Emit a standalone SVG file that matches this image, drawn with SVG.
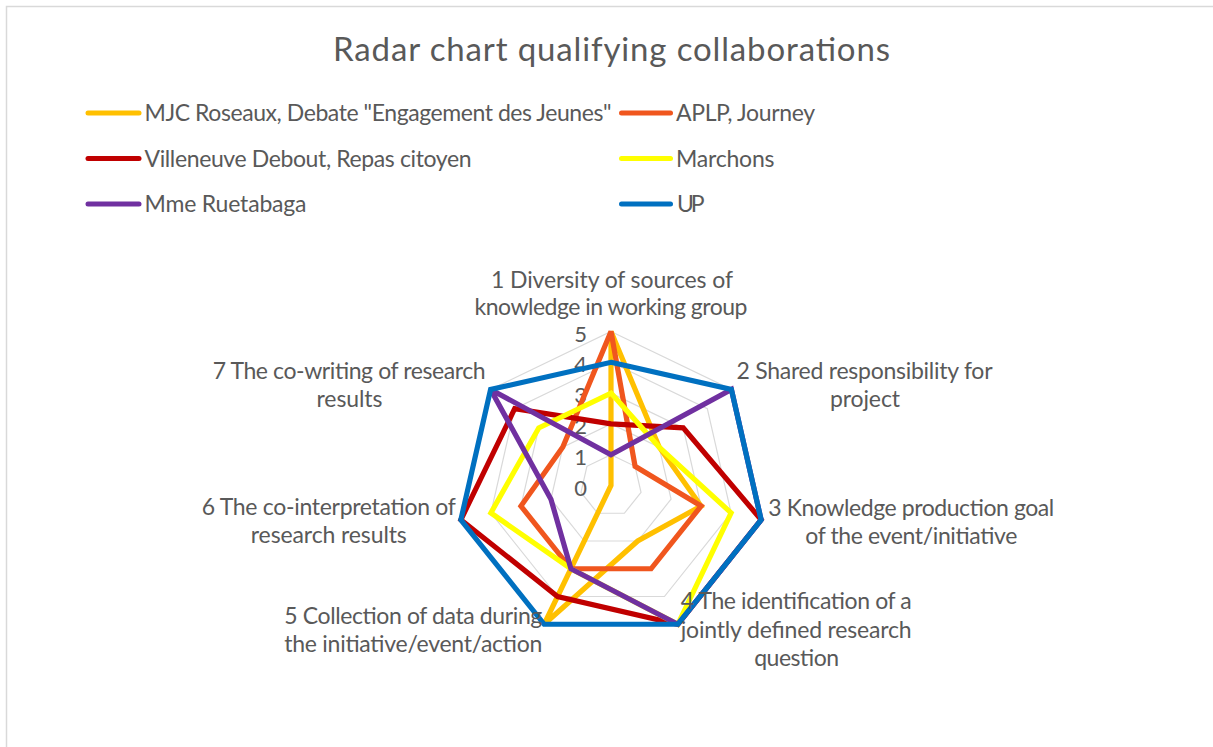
<svg xmlns="http://www.w3.org/2000/svg" width="1213" height="747" viewBox="0 0 1213 747">
  <style>
    .t { font-family: Lato, "Open Sans", "Liberation Sans", sans-serif; fill: #595959; font-size: 23px; }
    .title { font-size: 33px; }
    .tick { font-size: 22px; }
    .mid { text-anchor: middle; }
    .end { text-anchor: end; }
    .grid { fill: none; stroke: #D9D9D9; stroke-width: 1.2; }
    .s { fill: none; stroke-width: 5.2; stroke-linejoin: miter; stroke-miterlimit: 2; }
    .lg { stroke-width: 5; stroke-linecap: round; }
  </style>
  <rect x="0" y="0" width="1213" height="747" fill="#FFFFFF"/>
  <path d="M6.5,747 V6.5 H1213" fill="none" stroke="#D9D9D9" stroke-width="1.5"/>

  <g id="title">
    <text class="t title mid" x="611.5" y="61" textLength="557">Radar chart qualifying collaborations</text>
  </g>

  <g id="legend">
    <g id="legend-mjc">
      <line class="lg" x1="88" y1="113" x2="139" y2="113" stroke="#FFC000"/>
      <text class="t" x="144.5" y="121" textLength="467">MJC Roseaux, Debate "Engagement des Jeunes"</text>
    </g>
    <g id="legend-aplp">
      <line class="lg" x1="621.5" y1="113" x2="670.5" y2="113" stroke="#F0561E"/>
      <text class="t" x="676" y="121" textLength="139">APLP, Journey</text>
    </g>
    <g id="legend-villeneuve">
      <line class="lg" x1="88" y1="158.5" x2="139" y2="158.5" stroke="#C00000"/>
      <text class="t" x="144.5" y="166.5" textLength="327">Villeneuve Debout, Repas citoyen</text>
    </g>
    <g id="legend-marchons">
      <line class="lg" x1="621.5" y1="158.5" x2="670.5" y2="158.5" stroke="#FFFF00"/>
      <text class="t" x="676" y="166.5" textLength="98.5">Marchons</text>
    </g>
    <g id="legend-ruetabaga">
      <line class="lg" x1="88" y1="204" x2="139" y2="204" stroke="#7030A0"/>
      <text class="t" x="144.5" y="212" textLength="162">Mme Ruetabaga</text>
    </g>
    <g id="legend-up">
      <line class="lg" x1="621.5" y1="204" x2="670.5" y2="204" stroke="#0070C0"/>
      <text class="t" x="677" y="212" textLength="27.5">UP</text>
    </g>
  </g>

  <g id="grid">
    <polygon class="grid" points="611,454.7 635.08,466.3 641.03,492.35 624.36,513.25 597.64,513.25 580.97,492.35 586.92,466.3"/>
    <polygon class="grid" points="611,423.9 659.16,447.1 671.06,499.21 637.73,541 584.27,541 550.94,499.21 562.84,447.1"/>
    <polygon class="grid" points="611,393.1 683.24,427.89 701.08,506.06 651.09,568.75 570.91,568.75 520.92,506.06 538.76,427.89"/>
    <polygon class="grid" points="611,362.3 707.32,408.69 731.11,512.91 664.45,596.5 557.55,596.5 490.89,512.91 514.68,408.69"/>
    <polygon class="grid" points="611,331.5 731.4,389.48 761.14,519.77 677.82,624.25 544.18,624.25 460.86,519.77 490.6,389.48"/>
  </g>

  <g id="ticks">
    <text class="t tick end" x="587" y="341.5">5</text>
    <text class="t tick end" x="587" y="372">4</text>
    <text class="t tick end" x="587" y="403">3</text>
    <text class="t tick end" x="587" y="434">2</text>
    <text class="t tick end" x="587" y="465">1</text>
    <text class="t tick end" x="587" y="496">0</text>
  </g>

  <g id="series">
    <polygon id="s-mjc" class="s" stroke="#FFC000" points="611,331.5 659.16,447.1 701.08,506.06 637.73,541 544.18,624.25 611,485.5 611,485.5"/>
    <polygon id="s-aplp" class="s" stroke="#F0561E" points="611,331.5 635.08,466.3 701.08,506.06 651.09,568.75 570.91,568.75 520.92,506.06 562.84,447.1"/>
    <polygon id="s-villeneuve" class="s" stroke="#C00000" points="611,423.9 683.24,427.89 761.14,519.77 677.82,624.25 557.55,596.5 460.86,519.77 514.68,408.69"/>
    <polygon id="s-marchons" class="s" stroke="#FFFF00" points="611,393.1 659.16,447.1 731.11,512.91 677.82,624.25 570.91,568.75 490.89,512.91 538.76,427.89"/>
    <polygon id="s-ruetabaga" class="s" stroke="#7030A0" points="611,454.7 731.4,389.48 761.14,519.77 677.82,624.25 570.91,568.75 550.94,499.21 490.6,389.48"/>
    <polygon id="s-up" class="s" stroke="#0070C0" points="611,362.3 731.4,389.48 761.14,519.77 677.82,624.25 544.18,624.25 460.86,519.77 490.6,389.48"/>
  </g>

  <g id="axis-labels">
    <g id="axis-1">
      <text class="t mid" x="612" y="287.5" textLength="242">1 Diversity of sources of</text>
      <text class="t mid" x="611" y="314.5" textLength="273">knowledge in working group</text>
    </g>
    <g id="axis-2">
      <text class="t mid" x="864.5" y="379" textLength="256">2 Shared responsibility for</text>
      <text class="t mid" x="865" y="407" textLength="70">project</text>
    </g>
    <g id="axis-3">
      <text class="t mid" x="911.3" y="516" textLength="286">3 Knowledge production goal</text>
      <text class="t mid" x="911.3" y="543.5" textLength="212">of the event/initiative</text>
    </g>
    <g id="axis-4">
      <text class="t mid" x="796.2" y="609" textLength="231">4 The identification of a</text>
      <text class="t mid" x="796.2" y="637.5" textLength="231">jointly defined research</text>
      <text class="t mid" x="796.7" y="666" textLength="85">question</text>
    </g>
    <g id="axis-5">
      <text class="t mid" x="413.3" y="624" textLength="258">5 Collection of data during</text>
      <text class="t mid" x="413.3" y="652" textLength="258">the initiative/event/action</text>
    </g>
    <g id="axis-6">
      <text class="t mid" x="328.8" y="515" textLength="254">6 The co-interpretation of</text>
      <text class="t mid" x="328.8" y="543" textLength="156">research results</text>
    </g>
    <g id="axis-7">
      <text class="t mid" x="349.2" y="379" textLength="273">7 The co-writing of research</text>
      <text class="t mid" x="349.5" y="407" textLength="66">results</text>
    </g>
  </g>
</svg>
